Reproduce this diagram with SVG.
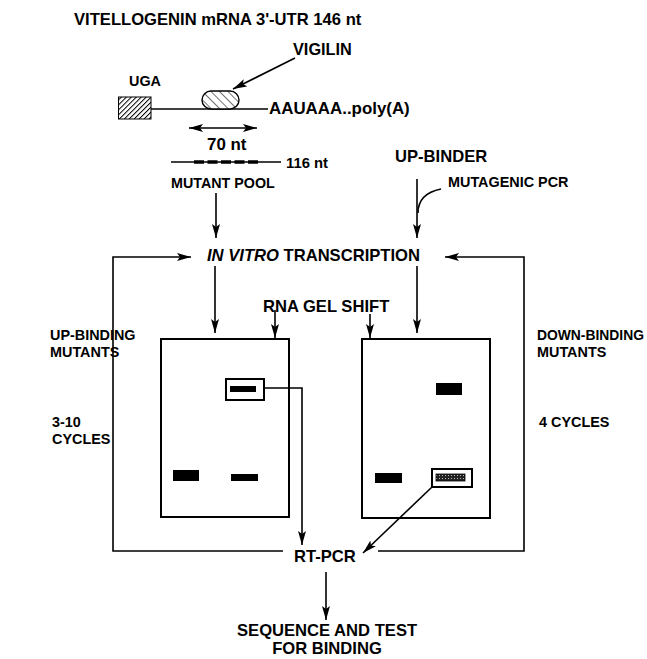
<svg xmlns="http://www.w3.org/2000/svg" width="647" height="659" viewBox="0 0 647 659">
<style>
text{font-family:"Liberation Sans",Arial,sans-serif;font-weight:bold;fill:#000}
.b{font-size:16.6px}
.s{font-size:14.4px}
.ln{fill:none;stroke:#000;stroke-width:1.6}
.bx{fill:#fff;stroke:#000;stroke-width:2}
.band{fill:#000}
</style>
<defs>
<marker id="ah" markerUnits="userSpaceOnUse" markerWidth="16" markerHeight="10" refX="14" refY="4" orient="auto">
<path d="M0,0 L14,4 L0,8 L3,4 z" fill="#000"/>
</marker>
<marker id="ahs" markerUnits="userSpaceOnUse" markerWidth="16" markerHeight="10" refX="14" refY="4" orient="auto-start-reverse">
<path d="M0,0 L14,4 L0,8 L3,4 z" fill="#000"/>
</marker>
<pattern id="hatchR" patternUnits="userSpaceOnUse" width="3.5" height="3.5" patternTransform="rotate(45)">
<rect width="3.5" height="3.5" fill="#fff"/>
<line x1="0" y1="0" x2="0" y2="3.5" stroke="#000" stroke-width="2"/>
</pattern>
<pattern id="hatchE" patternUnits="userSpaceOnUse" width="6" height="6" patternTransform="rotate(-45)">
<rect width="6" height="6" fill="#fff"/>
<line x1="0" y1="0" x2="0" y2="6" stroke="#000" stroke-width="1.1"/>
</pattern>
<pattern id="dots" patternUnits="userSpaceOnUse" width="3" height="3">
<rect width="3" height="3" fill="#222"/>
<rect x="1" y="1" width="1" height="1" fill="#bbb"/>
</pattern>
</defs>

<g id="title"><text class="b" x="74" y="25">VITELLOGENIN mRNA 3'-UTR 146 nt</text></g>

<g id="mrna">
<text class="s" x="129" y="86">UGA</text>
<rect x="118.5" y="97" width="32.5" height="22" fill="url(#hatchR)" stroke="#000" stroke-width="1"/>
<line class="ln" x1="151" y1="109" x2="268" y2="109"/>
<rect x="202" y="91" width="37" height="18" rx="9" ry="9" fill="url(#hatchE)" stroke="#000" stroke-width="1.4"/>
<text class="b" x="269" y="114" style="font-size:16.9px">AAUAAA..poly(A)</text>
</g>

<g id="vigilin"><text class="b" x="293" y="55" style="font-size:16.3px">VIGILIN</text></g>

<g id="span70">
<text class="b" x="207" y="150" style="font-size:16.9px">70 nt</text>
</g>

<g id="mutant-pool">
<line class="ln" x1="171" y1="162" x2="281" y2="162"/>
<line x1="194" y1="162" x2="258" y2="162" stroke="#000" stroke-width="3.4" stroke-dasharray="10,3.5"/>
<text class="s" x="286" y="168" style="font-size:14.8px">116 nt</text>
<text class="s" x="171" y="188" style="font-size:14.3px">MUTANT POOL</text>
</g>

<g id="up-binder">
<text class="b" x="395" y="162">UP-BINDER</text>
<text class="s" x="448" y="187">MUTAGENIC PCR</text>
</g>

<g id="transcription">
<text class="b" x="207" y="261"><tspan font-style="italic">IN VITRO</tspan> TRANSCRIPTION</text>
</g>

<g id="gel-shift"><text class="b" x="263" y="312">RNA GEL SHIFT</text></g>

<g id="labels">
<text class="s" x="50" y="340">UP-BINDING</text>
<text class="s" x="50" y="357">MUTANTS</text>
<text class="s" x="537" y="340" textLength="107" lengthAdjust="spacingAndGlyphs">DOWN-BINDING</text>
<text class="s" x="537" y="357">MUTANTS</text>
<text class="s" x="52" y="427">3-10</text>
<text class="s" x="52" y="444">CYCLES</text>
<text class="s" x="539" y="427">4 CYCLES</text>
</g>

<g id="gel-left">
<rect class="bx" x="161" y="339" width="128" height="178"/>
<rect x="226" y="379" width="38" height="21" fill="#fff" stroke="#000" stroke-width="2"/>
<rect class="band" x="230" y="386" width="26" height="6"/>
<rect class="band" x="173" y="470" width="26" height="11"/>
<rect class="band" x="231" y="474" width="27" height="7"/>
</g>

<g id="gel-right">
<rect class="bx" x="362" y="339" width="128" height="179"/>
<rect class="band" x="436" y="383" width="26" height="12"/>
<rect class="band" x="375" y="473" width="27" height="10"/>
<rect x="432" y="469" width="40" height="18" fill="#fff" stroke="#000" stroke-width="2"/>
<rect x="436" y="474" width="29" height="7" fill="url(#dots)" stroke="#000" stroke-width="0.8"/>
</g>

<g id="rt-pcr"><text class="b" x="294" y="562">RT-PCR</text></g>

<g id="sequence">
<text class="b" x="237" y="636">SEQUENCE AND TEST</text>
<text class="b" x="327" y="654" text-anchor="middle">FOR BINDING</text>
</g>

<g id="connectors">
<line class="ln" x1="295" y1="58" x2="233" y2="89" marker-end="url(#ah)"/>
<line class="ln" x1="189" y1="128" x2="257" y2="128" marker-start="url(#ahs)" marker-end="url(#ahs)"/>
<line class="ln" x1="216" y1="193" x2="216" y2="238" marker-end="url(#ah)"/>
<line class="ln" x1="417" y1="179" x2="417" y2="238" marker-end="url(#ah)"/>
<path class="ln" d="M441,189 C426,192 418,200 418,213"/>
<polyline class="ln" points="283,551 113,551 113,257 191,257" marker-end="url(#ah)"/>
<polyline class="ln" points="378,551 524,551 524,257 445,257" marker-end="url(#ah)"/>
<line class="ln" x1="215" y1="266" x2="215" y2="333" marker-end="url(#ah)"/>
<line class="ln" x1="417" y1="266" x2="417" y2="333" marker-end="url(#ah)"/>
<line class="ln" x1="275" y1="310" x2="275" y2="338" marker-end="url(#ah)"/>
<line class="ln" x1="370" y1="314" x2="370" y2="338" marker-end="url(#ah)"/>
<polyline class="ln" points="264,388 302,388 302,545" marker-end="url(#ah)"/>
<line class="ln" x1="432" y1="487" x2="363" y2="553" marker-end="url(#ah)"/>
<line class="ln" x1="326" y1="572" x2="326" y2="620" marker-end="url(#ah)"/>
</g>
</svg>
